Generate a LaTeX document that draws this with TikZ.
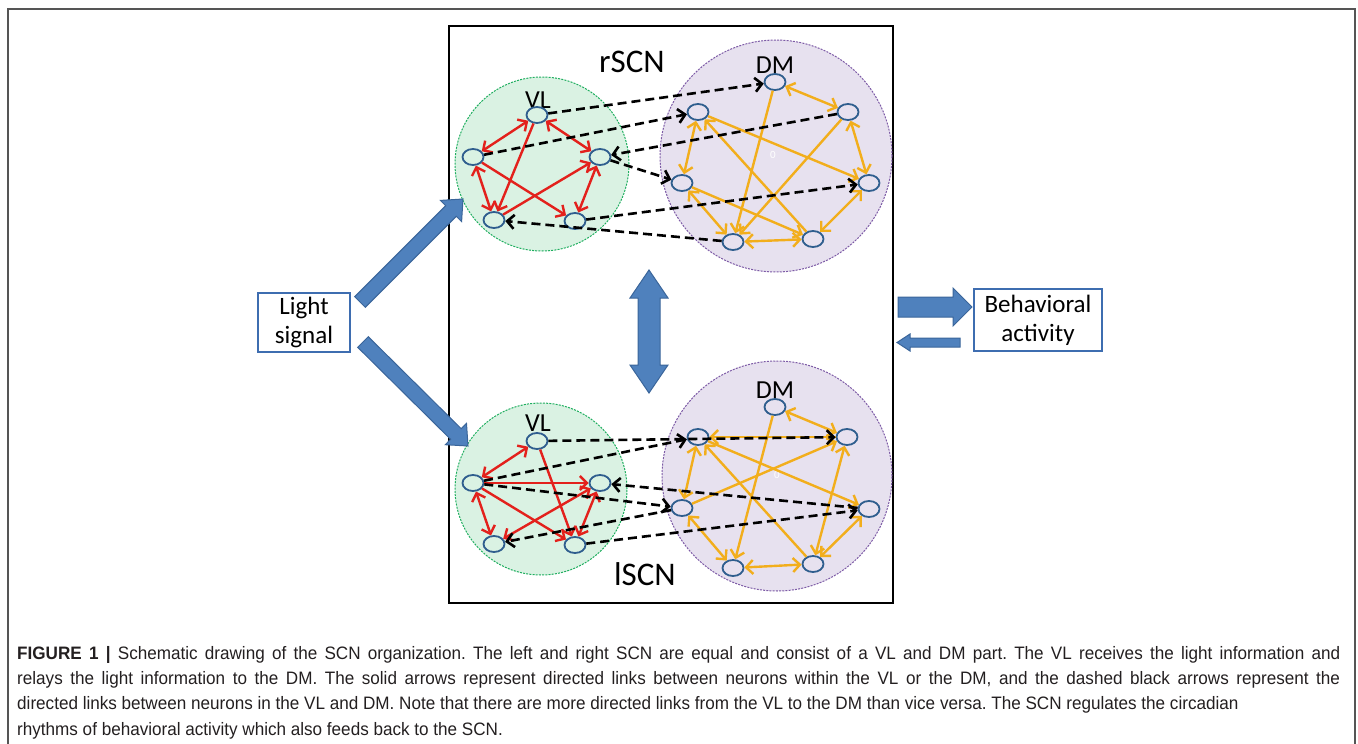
\documentclass[tikz,border=0pt]{standalone}
\usepackage{fontspec}
\setmainfont{Carlito}
\newfontfamily\capfont[FakeStretch=0.95]{Liberation Sans}
\usetikzlibrary{arrows.meta,shapes.geometric}
\definecolor{cellblue}{HTML}{2F5E8E}
\definecolor{vlgreen}{HTML}{DAF2E3}
\definecolor{vlline}{HTML}{1FAE5F}
\definecolor{dmlilac}{HTML}{E7E1EF}
\definecolor{dmline}{HTML}{7D5BA6}
\definecolor{linkred}{HTML}{E3211C}
\definecolor{linkorange}{HTML}{F2AE1C}
\definecolor{fatblue}{HTML}{4F81BD}
\definecolor{fatedge}{HTML}{3A659A}
\definecolor{boxblue}{HTML}{3E6DB0}
\definecolor{capgray}{HTML}{231F20}
\definecolor{framegray}{HTML}{555555}
\frenchspacing
\tikzset{vlzone/.style={circle,draw=vlline,fill=vlgreen,dash pattern=on 2pt off 1.2pt,line width=1pt,inner sep=0pt},dmzone/.style={circle,draw=dmline,fill=dmlilac,dash pattern=on 2pt off 1.2pt,line width=1pt,inner sep=0pt},cell/.style={ellipse,draw=cellblue,line width=1.8pt,minimum width=21pt,minimum height=16pt,inner sep=0pt},redlink/.style={draw=linkred,line width=2.4pt},orlink/.style={draw=linkorange,line width=2.4pt},dashlink/.style={draw=black,line width=2.6pt,dash pattern=on 9pt off 5pt,->},zonelbl/.style={font=\fontsize{26}{30}\selectfont,inner sep=0pt},scnlbl/.style={font=\fontsize{33}{38}\selectfont,inner sep=0pt,anchor=base},infobox/.style={draw=boxblue,line width=1.2pt,align=center,font=\fontsize{25}{29}\selectfont,inner sep=0pt},fatarrow/.style={fill=fatblue,draw=fatedge,line width=1pt}}
\begin{document}
\begin{tikzpicture}[x=1pt,y=-1pt,>={Straight Barb[length=7pt,width=14pt]}]
\useasboundingbox (0,0) rectangle (1358,744);
\draw[framegray,line width=2pt] (8,744)--(8,9)--(1355,9)--(1355,744);
\node[draw,line width=2pt,minimum width=444pt,minimum height=577pt,inner sep=0pt] (scn) at (671,314.5) {};
\node[vlzone,minimum size=174pt] (rvl) at (542,164) {};\node[dmzone,minimum size=232pt] (rdm) at (776,156) {};
\node[vlzone,minimum size=172pt] (lvl) at (541,489) {};\node[dmzone,minimum size=230pt] (ldm) at (777,476) {};
\node[scnlbl] (rscn) at (632,72) {rSCN};\node[scnlbl] (lscn) at (645,585) {lSCN};
\node[zonelbl] (rvltxt) at (538,100) {VL};\node[zonelbl] (rdmtxt) at (775,65) {DM};\node[zonelbl] (lvltxt) at (538,423) {VL};\node[zonelbl] (ldmtxt) at (775,390) {DM};
\node[text=white,font=\fontsize{11}{12}\selectfont] (rzero) at (773,155) {0};\node[text=white,font=\fontsize{11}{12}\selectfont] (lzero) at (777,475) {0};
\foreach \n/\x/\y in {rv1/537/115,rv2/473/157,rv3/600/157,rv4/494/220,rv5/575/221,lv1/537/441,lv2/473/483,lv3/600/483,lv4/494/544,lv5/575/545}\node[cell] (\n) at (\x,\y) {};
\foreach \n/\x/\y in {rd1/775/82,rd2/698/112,rd3/848/112,rd4/682/183,rd5/869/183,rd6/733/242,rd7/813/239,ld1/775/407,ld2/698/437,ld3/847/437,ld4/682/508,ld5/869/509,ld6/733/568,ld7/813/564}\node[cell] (\n) at (\x,\y) {};
\foreach \a/\b in {rv1/rv2,rv1/rv3,rv2/rv4,rv3/rv5,lv1/lv2,lv2/lv4,lv3/lv5,lv3/lv4}\draw[redlink,<->] (\a)--(\b);
\foreach \a/\b in {rv1/rv4,rv2/rv5,rv4/rv3,lv1/lv5,lv2/lv3,lv2/lv5}\draw[redlink,->] (\a)--(\b);
\foreach \a/\b in {rd1/rd3,rd2/rd4,rd3/rd5,rd4/rd6,rd6/rd7,rd5/rd7,ld1/ld3,ld2/ld4,ld3/ld7,ld4/ld6,ld6/ld7,ld5/ld7}\draw[orlink,<->] (\a)--(\b);
\foreach \a/\b in {rd1/rd6,rd2/rd5,rd3/rd6,rd4/rd7,rd7/rd2,ld1/ld6,ld3/ld2,ld4/ld3,ld2/ld5,ld7/ld2}\draw[orlink,->] (\a)--(\b);
\foreach \a/\b in {rv1/rd1,rv2/rd2,rd3/rv3,rv3/rd4,rv5/rd5,rd6/rv4,lv1/ld3,lv2/ld2,ld5/lv3,lv2/ld4,lv5/ld5,ld4/lv4}\draw[dashlink] (\a)--(\b);
\node[infobox,minimum width=92pt,minimum height=59pt] (light) at (304,322.5) {Light\\signal};
\node[infobox,minimum width=128pt,minimum height=62pt] (behav) at (1038,320) {Behavioral\\activity};
\draw[fatarrow] (365.3,307.3)--(456.3,216.3)--(461.6,221.6)--(463,199)--(440.4,200.4)--(445.7,205.7)--(354.7,296.7)--cycle;
\draw[fatarrow] (368.3,336.7)--(461.2,428.7)--(466.5,423.4)--(468,446)--(445.3,444.7)--(450.6,439.3)--(357.7,347.3)--cycle;
\draw[fatarrow] (649,270)--(668,298)--(660,298)--(660,365)--(668,365)--(649,393)--(630,365)--(638,365)--(638,298)--(630,298)--cycle;
\draw[fatarrow] (898,297)--(953,297)--(953,288)--(972,307)--(953,326)--(953,317)--(898,317)--cycle;
\draw[fatarrow] (960,338)--(910,338)--(910,334)--(897,342.5)--(910,351)--(910,347)--(960,347)--cycle;
\node[anchor=north west,inner sep=0pt,align=left,text=capgray,font=\capfont\fontsize{18}{25.3}\selectfont] (caption) at (17,646) {\makebox[1323pt][s]{\textbf{FIGURE 1 |} Schematic drawing of the SCN organization. The left and right SCN are equal and consist of a VL and DM part. The VL receives the light information and}\\\makebox[1323pt][s]{relays the light information to the DM. The solid arrows represent directed links between neurons within the VL or the DM, and the dashed black arrows represent the}\\directed links between neurons in the VL and DM. Note that there are more directed links from the VL to the DM than vice versa. The SCN regulates the circadian\\rhythms of behavioral activity which also feeds back to the SCN.};
\end{tikzpicture}
\end{document}
